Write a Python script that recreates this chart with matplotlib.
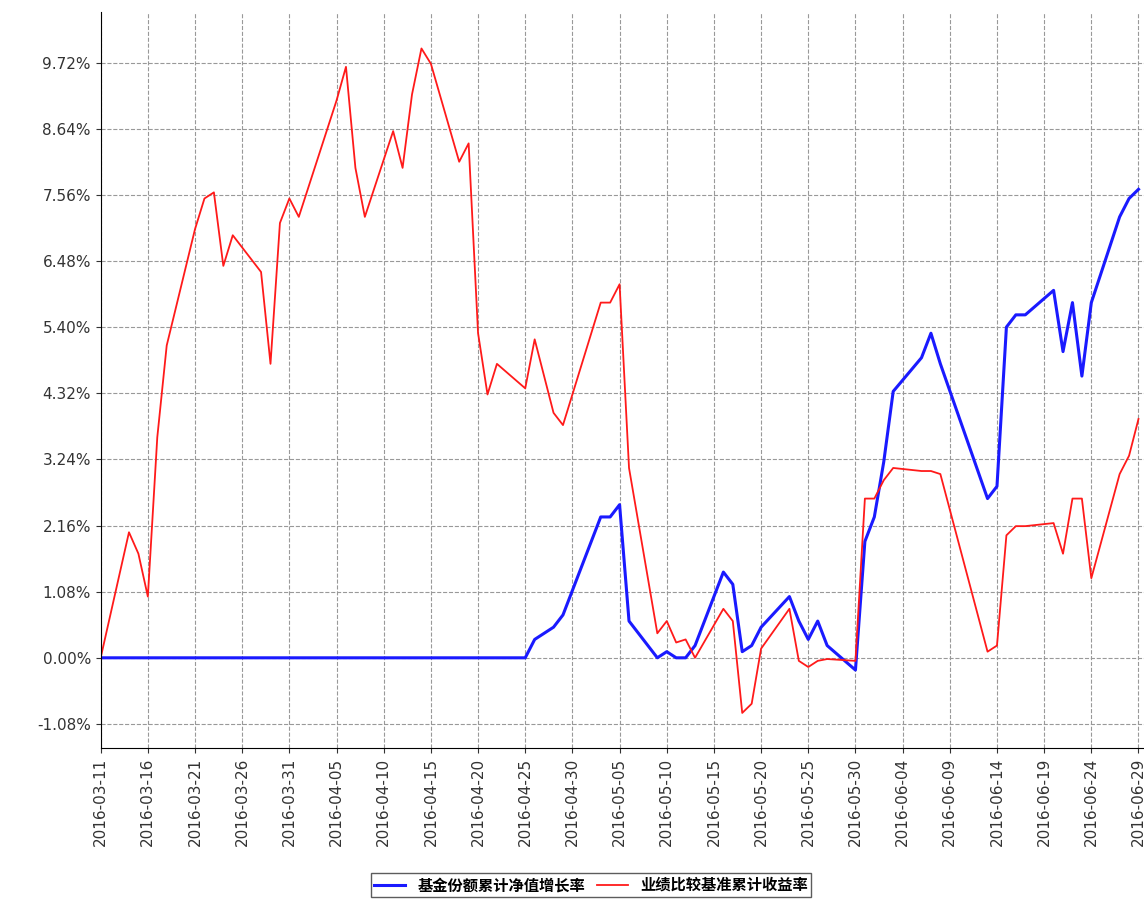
import matplotlib
matplotlib.use('Agg')
import matplotlib.pyplot as plt
import numpy as np
import pandas as pd

plt.rcParams['font.family'] = ['DejaVu Sans', 'Noto Sans CJK SC']

dates = ['03-11', '03-14', '03-15', '03-16', '03-17', '03-18', '03-21', '03-22', '03-23', '03-24',
         '03-25', '03-28', '03-29', '03-30', '03-31', '04-01', '04-05', '04-06', '04-07', '04-08',
         '04-11', '04-12', '04-13', '04-14', '04-15', '04-18', '04-19', '04-20', '04-21', '04-22',
         '04-25', '04-26', '04-27', '04-28', '04-29', '05-03', '05-04', '05-05', '05-06', '05-09',
         '05-10', '05-11', '05-12', '05-13', '05-16', '05-17', '05-18', '05-19', '05-20', '05-23',
         '05-24', '05-25', '05-26', '05-27', '05-30', '05-31', '06-01', '06-02', '06-03', '06-06',
         '06-07', '06-08', '06-13', '06-14', '06-15', '06-16', '06-17', '06-20', '06-21', '06-22',
         '06-23', '06-24', '06-27', '06-28', '06-29']

benchmark = [0.0, 2.05, 1.7, 1.0, 3.6, 5.1, 7.0, 7.5, 7.6, 6.4,
             6.9, 6.3, 4.8, 7.1, 7.5, 7.2, 9.1, 9.65, 8.0, 7.2,
             8.6, 8.0, 9.2, 9.95, 9.7, 8.1, 8.4, 5.3, 4.3, 4.8,
             4.4, 5.2, 4.6, 4.0, 3.8, 5.8, 5.8, 6.1, 3.1, 0.4,
             0.6, 0.25, 0.3, 0.0, 0.8, 0.6, -0.9, -0.75, 0.15, 0.8,
             -0.05, -0.15, -0.05, -0.02, -0.05, 2.6, 2.6, 2.9, 3.1, 3.05,
             3.05, 3.0, 0.1, 0.2, 2.0, 2.15, 2.15, 2.2, 1.7, 2.6,
             2.6, 1.3, 3.0, 3.3, 3.9]

fund = [0.0] * 30 + [
             0.0, 0.3, 0.4, 0.5, 0.7, 2.3, 2.3, 2.5, 0.6, 0.0,
             0.1, 0.0, 0.0, 0.2, 1.4, 1.2, 0.1, 0.2, 0.5, 1.0,
             0.6, 0.3, 0.6, 0.2, -0.2, 1.9, 2.3, 3.2, 4.35, 4.9,
             5.3, 4.8, 2.6, 2.8, 5.4, 5.6, 5.6, 6.0, 5.0, 5.8,
             4.6, 5.8, 7.2, 7.5, 7.65]

x = pd.to_datetime(['2016-' + d for d in dates])

fig = plt.figure(figsize=(11.44, 9.01), dpi=100)
ax = fig.add_axes([0.088, 0.17, 0.912, 0.817])
ax.plot(x, fund, color='#1a1aff', lw=2.2, label='基金份额累计净值增长率')
ax.plot(x, benchmark, color='#ff1a1a', lw=1.3, label='业绩比较基准累计收益率')

ax.set_xlim(pd.Timestamp('2016-03-11'), pd.Timestamp('2016-06-29 14:00'))
ax.set_ylim(-1.47, 10.55)
yt = np.arange(-1, 10) * 1.08
ax.set_yticks(yt)
ax.set_yticklabels(['%.2f%%' % v for v in yt])
xt = pd.date_range('2016-03-11', '2016-06-29', freq='5D')
ax.set_xticks(xt)
ax.set_xticklabels([d.strftime('%Y-%m-%d') for d in xt], rotation=90)
ax.tick_params(labelsize=11, colors='#333333')
ax.grid(True, ls='--', color='#999999', lw=0.8)
for s in ['top', 'right']:
    ax.spines[s].set_visible(False)
leg = ax.legend(loc='upper center', bbox_to_anchor=(0.47, -0.16), ncol=2, frameon=True,
                fancybox=False, edgecolor='#333333', fontsize=11, borderpad=0.25,
                handlelength=2, columnspacing=0.8)
for t in leg.get_texts():
    t.set_fontweight('bold')
    t.set_family(['Noto Sans CJK SC'])

fig.savefig('out.png')
